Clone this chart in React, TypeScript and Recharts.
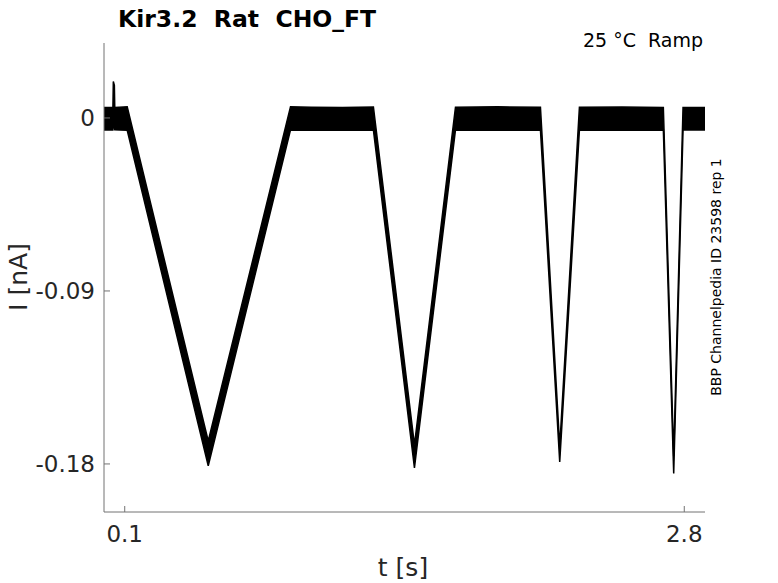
import React from "react";
import { ComposedChart, Area, XAxis, YAxis } from "recharts";

// Current trace envelope (min / max of the noisy recording)
const time = [
  0, 0.043, 0.045, 0.05, 0.052, 0.112, 0.503, 0.9, 1.0, 1.15, 1.3,
  1.498, 1.696, 1.9, 2.106, 2.199, 2.294, 2.5, 2.699, 2.749, 2.794, 2.9,
];
const lower = [
  -0.0062, -0.0062, -0.004, -0.004, -0.0062, -0.0064, -0.181, -0.0062,
  -0.0064, -0.0062, -0.0064, -0.182, -0.0062, -0.0064, -0.0062, -0.179,
  -0.0062, -0.0064, -0.0062, -0.185, -0.0062, -0.0062,
];
const upper = [
  0.0055, 0.0055, 0.019, 0.017, 0.0055, 0.0058, -0.168, 0.0058,
  0.0056, 0.0055, 0.0057, -0.17, 0.0056, 0.0058, 0.0056, -0.171, 0.0056,
  0.0057, 0.0055, -0.176, 0.0055, 0.0055,
];

const xTicks = [0.1, 2.8];
const yTicks = [-0.18, -0.09, 0];

const data = time.map((t, i) => ({ t, band: [lower[i], upper[i]] }));

const W = 778;
const H = 583;
const PLOT_LEFT = 104;
const PLOT_BOTTOM = 512;
const AXIS = "#737373";
const TEXT = "#262626";
const FONT = "DejaVu Sans, sans-serif";

const fmt = (v: number) => (v === 0 ? "0" : String(v));

function YTick({ y, payload }: any) {
  return (
    <g>
      <line x1={PLOT_LEFT} x2={PLOT_LEFT + 6} y1={y} y2={y} stroke={AXIS} />
      <text
        x={PLOT_LEFT - 9}
        y={y}
        textAnchor="end"
        dominantBaseline="central"
        fontFamily={FONT}
        fontSize={23}
        fill={TEXT}
      >
        {fmt(payload.value)}
      </text>
    </g>
  );
}

function XTick({ x, payload }: any) {
  return (
    <g>
      <line x1={x} x2={x} y1={PLOT_BOTTOM} y2={PLOT_BOTTOM - 6} stroke={AXIS} />
      <text
        x={x}
        y={PLOT_BOTTOM + 30}
        textAnchor="middle"
        fontFamily={FONT}
        fontSize={23}
        fill={TEXT}
      >
        {fmt(payload.value)}
      </text>
    </g>
  );
}

export default function App() {
  return (
    <div style={{ position: "absolute", left: 0, top: 0, width: W, height: H, background: "#fff" }}>
      <ComposedChart
        width={W}
        height={H}
        data={data}
        margin={{ top: 43, right: 73, bottom: 31, left: 44 }}
      >
        <XAxis
          type="number"
          dataKey="t"
          domain={[0, 2.9]}
          ticks={xTicks}
          allowDataOverflow
          height={40}
          stroke={AXIS}
          tickLine={false}
          tick={<XTick />}
        />
        <YAxis
          type="number"
          domain={[-0.205, 0.039]}
          ticks={yTicks}
          allowDataOverflow
          width={60}
          stroke={AXIS}
          tickLine={false}
          tick={<YTick />}
        />
        <Area
          type="linear"
          dataKey="band"
          stroke="#000"
          strokeWidth={1.5}
          fill="#000"
          fillOpacity={1}
          dot={false}
          activeDot={false}
          isAnimationActive={false}
        />
      </ComposedChart>
      <svg
        width={W}
        height={H}
        style={{ position: "absolute", left: 0, top: 0, pointerEvents: "none" }}
      >
        <text x={118} y={27} fontFamily={FONT} fontWeight="bold" fontSize={23.5} fill="#000">
          {"Kir3.2\u00a0\u00a0Rat\u00a0\u00a0CHO_FT"}
        </text>
        <text x={703} y={47} textAnchor="end" fontFamily={FONT} fontSize={19} fill="#000">
          {"25 °C\u00a0\u00a0Ramp"}
        </text>
        <text x={403} y={576} textAnchor="middle" fontFamily={FONT} fontSize={25} fill={TEXT}>
          t [s]
        </text>
        <text
          x={27}
          y={277}
          textAnchor="middle"
          transform="rotate(-90 27 277)"
          fontFamily={FONT}
          fontSize={25}
          fill={TEXT}
        >
          I [nA]
        </text>
        <text
          x={721}
          y={277}
          textAnchor="middle"
          transform="rotate(-90 721 277)"
          fontFamily={FONT}
          fontSize={14}
          fill="#000"
        >
          BBP Channelpedia ID 23598 rep 1
        </text>
      </svg>
    </div>
  );
}
